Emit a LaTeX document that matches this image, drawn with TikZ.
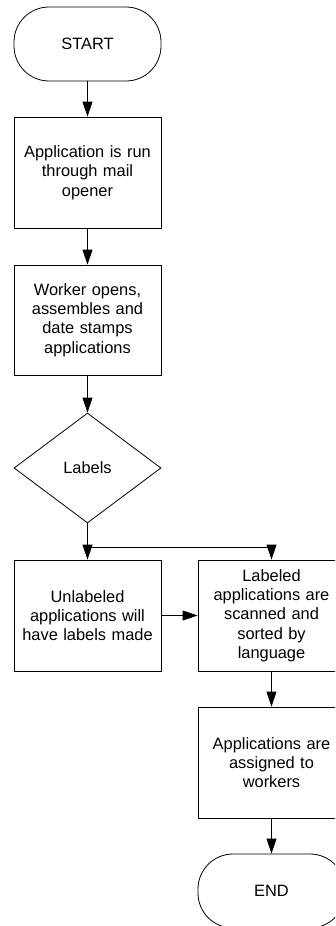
\documentclass[tikz,border=0pt]{standalone}
\usepackage{fontspec}
\setmainfont{Liberation Sans}
\usetikzlibrary{arrows.meta,shapes.geometric}
\begin{document}
\begin{tikzpicture}[x=1pt,y=-1pt,
  font=\fontsize{16.4}{19.3}\selectfont,
  box/.style={draw, line width=0.8pt, minimum width=147pt, minimum height=111pt, align=center, inner sep=0pt, text width=145pt},
  term/.style={draw, line width=0.8pt, rounded corners=35pt, minimum width=147pt, minimum height=74pt, inner sep=0pt},
  dec/.style={draw, line width=0.8pt, diamond, minimum width=147pt, minimum height=110pt, inner sep=0pt},
  arr/.style={-{Triangle[length=15pt,width=10pt]}, line width=0.8pt}]
\useasboundingbox (0,0) rectangle (335,926);
\clip (0,0) rectangle (335,926);
\fill[white] (0,0) rectangle (335,926);
\node[term] (start) at (87.5,44) {START};
\node[box] (b1) at (87.5,172.5) {Application is run\\through mail\\opener};
\node[box, minimum height=110pt] (b2) at (87.5,320) {Worker opens,\\assembles and\\date stamps\\applications};
\node[dec] (lab) at (87.5,468) {Labels};
\node[box] (ul) at (87.5,615.5) {Unlabeled\\applications will\\have labels made};
\node[box] (ls) at (271.5,615.5) {Labeled\\applications are\\scanned and\\sorted by\\language};
\node[box] (as) at (271.5,762.5) {Applications are\\assigned to\\workers};
\node[term] (end) at (271.5,891) {END};
\coordinate (j) at (87.5,547);
\draw[arr] (start) -- (b1);
\draw[arr] (b1) -- (b2);
\draw[arr] (b2) -- (lab);
\draw[arr] (lab) -- (ul);
\draw[arr] (j) -| (ls.north);
\draw[arr] (ul) -- (ls);
\draw[arr] (ls) -- (as);
\draw[arr] (as) -- (end);
\end{tikzpicture}
\end{document}
